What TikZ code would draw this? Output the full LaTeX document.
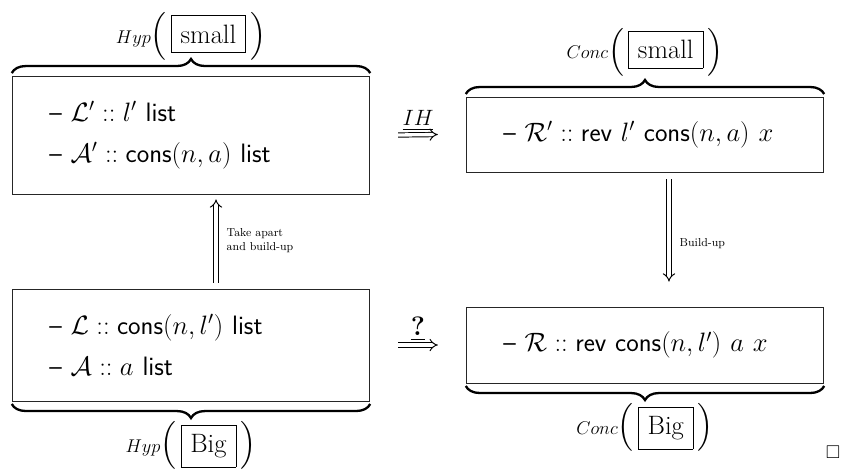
\documentclass[tikz,border=0pt]{standalone}
\usepackage{amsmath, amssymb}
\usepackage{tikz}
\usetikzlibrary{positioning, arrows.meta, decorations.pathreplacing}
\tikzset{
    factbox/.style={rectangle, draw=black!85, line width=0.6pt, font=\huge\sffamily, align=left, text width=249pt, inner xsep=15pt, inner ysep=0pt},
    brc/.style={decorate, decoration={brace, amplitude=11pt}, line width=1.8pt},
    bracelbl/.style={font=\huge, inner sep=0pt, execute at begin node={\setlength{\fboxsep}{7pt}}},
    implies/.style={double, double distance=2.6pt, line width=0.75pt, -Implies},
    note/.style={font=\small, align=left, inner sep=0pt}
}
\newcommand{\brlabel}[2]{${\scriptstyle #1}\Big(\,\fbox{#2}\,\Big)$}
\newcommand{\fact}[1]{\hspace*{14pt}--~#1}

\begin{document}
\begin{tikzpicture}[x=0.78pt, y=-0.78pt]
        \useasboundingbox (0,0) rectangle (842,468);

        % Hypotheses (left) and conclusions (right)
        \node[factbox, minimum height=92pt] (hypsmall) at (191,135) {\fact{$\mathcal{L}' :: l'$ list}\\[7pt] \fact{$\mathcal{A}' :: \text{cons}(n,a)$ list}};
        \node[factbox, minimum height=58.5pt] (concsmall) at (645,134.5) {\fact{$\mathcal{R}' :: \text{rev}\ l'\ \text{cons}(n,a)\ x$}};
        \node[factbox, minimum height=87.4pt] (hypbig) at (191,345) {\fact{$\mathcal{L} :: \text{cons}(n,l')$ list}\\[7pt] \fact{$\mathcal{A} :: a$ list}};
        \node[factbox, minimum height=59.3pt] (concbig) at (645,345) {\fact{$\mathcal{R} :: \text{rev}\ \text{cons}(n,l')\ a\ x$}};

        % Braces
        \draw[brc] ([yshift=2pt]hypsmall.north west) -- ([yshift=2pt]hypsmall.north east)
            node[bracelbl, midway, above=9pt] (hypsmalllbl) {\brlabel{Hyp}{small}};
        \draw[brc] ([yshift=2pt]concsmall.north west) -- ([yshift=2pt]concsmall.north east)
            node[bracelbl, midway, above=13pt] (concsmalllbl) {\brlabel{Conc}{small}};
        \draw[brc] ([yshift=-2pt]hypbig.south east) -- ([yshift=-2pt]hypbig.south west)
            node[bracelbl, midway, below=13pt] (hypbiglbl) {\brlabel{Hyp}{Big}};
        \draw[brc] ([yshift=-2pt]concbig.south east) -- ([yshift=-2pt]concbig.south west)
            node[bracelbl, midway, below=13pt] (concbiglbl) {\brlabel{Conc}{Big}};

        % Implications
        \draw[implies] ([xshift=21.8pt]hypsmall.east) -- ([xshift=-21.8pt]concsmall.west)
            node[midway, above=3pt, inner sep=0pt, font=\LARGE] (ihlbl) {$\underline{IH}$};
        \draw[implies] ([xshift=21.8pt]hypbig.east) -- ([xshift=-21.8pt]concbig.west)
            node[midway, above=3pt, inner sep=0pt, font=\huge\bfseries] (qlbl) {\underline{?}};
        \draw[implies] ([xshift=19.5pt, yshift=4.7pt]hypbig.north) -- ([xshift=19.5pt, yshift=-3.9pt]hypsmall.south)
            node[note, midway, right=8pt] (apartlbl) {Take apart\\and build-up};
        \draw[implies] ([xshift=18.7pt, yshift=-5.5pt]concsmall.south) -- ([xshift=18.7pt, yshift=19.5pt]concbig.north)
            node[note, midway, right=8pt, yshift=-10pt] (buildlbl) {Build-up};

        \node[font=\Large, inner sep=0pt] (qed) at (833,452) {$\square$};
    \end{tikzpicture}
\end{document}
